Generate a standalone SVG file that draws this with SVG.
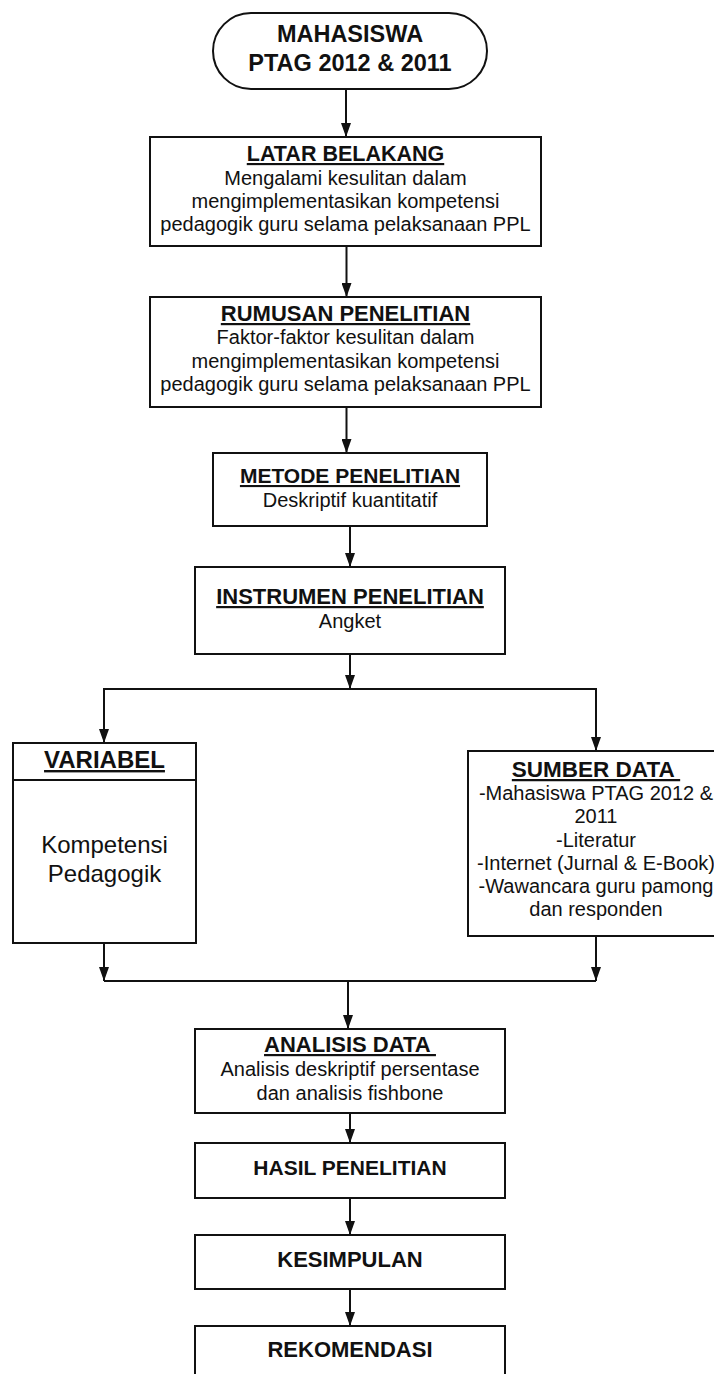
<svg xmlns="http://www.w3.org/2000/svg" width="714" height="1374" viewBox="0 0 714 1374">
<defs>
<marker id="ah" viewBox="0 0 14 10" markerUnits="userSpaceOnUse" markerWidth="14" markerHeight="10" refX="14" refY="5" orient="auto">
<path d="M0,0 L14,5 L0,10 z" fill="#111"/>
</marker>
<style>
.box{fill:#fff;stroke:#111;stroke-width:2}
.t{font-family:"Liberation Sans",Arial,sans-serif;font-weight:bold;font-size:22px;fill:#111;text-anchor:middle}
.u{text-decoration:underline}
.b{font-family:"Liberation Sans",Arial,sans-serif;font-size:20px;fill:#111;text-anchor:middle}
.c{fill:none;stroke:#111;stroke-width:2}
.a{fill:none;stroke:#111;stroke-width:2;marker-end:url(#ah)}
</style>
</defs>
<rect width="714" height="1374" fill="#fff"/>
<g id="connectors">
<line class="a" x1="346" y1="89" x2="346" y2="137"/>
<line class="a" x1="346.5" y1="246" x2="346.5" y2="297"/>
<line class="a" x1="346.5" y1="407" x2="346.5" y2="453"/>
<line class="a" x1="350" y1="526" x2="350" y2="567"/>
<line class="a" x1="350" y1="654" x2="350" y2="689"/>
<line class="c" x1="104" y1="689" x2="596" y2="689"/>
<line class="a" x1="104" y1="688" x2="104" y2="743"/>
<line class="a" x1="596" y1="688" x2="596" y2="751"/>
<line class="a" x1="104" y1="943" x2="104" y2="981"/>
<line class="a" x1="596" y1="936" x2="596" y2="981"/>
<line class="c" x1="104" y1="981" x2="596" y2="981"/>
<line class="a" x1="348" y1="981" x2="348" y2="1029"/>
<line class="a" x1="350" y1="1113" x2="350" y2="1143"/>
<line class="a" x1="350" y1="1198" x2="350" y2="1235"/>
<line class="a" x1="350" y1="1289" x2="350" y2="1326"/>
</g>
<g id="mahasiswa">
<rect class="box" x="213" y="13" width="274" height="76" rx="38" ry="38"/>
<text class="t" x="350" y="42" style="font-size:23.5px">MAHASISWA</text>
<text class="t" x="350" y="71" style="font-size:23.5px">PTAG 2012 &amp; 2011</text>
</g>
<g id="latar">
<rect class="box" x="150" y="137" width="391" height="109"/>
<text class="t u" x="345.5" y="161" style="font-size:21.5px">LATAR BELAKANG</text>
<text class="b" x="345.5" y="185">Mengalami kesulitan dalam</text>
<text class="b" x="345.5" y="208">mengimplementasikan kompetensi</text>
<text class="b" x="345.5" y="231">pedagogik guru selama pelaksanaan PPL</text>
</g>
<g id="rumusan">
<rect class="box" x="150" y="297" width="391" height="110"/>
<text class="t u" x="345.5" y="321">RUMUSAN PENELITIAN</text>
<text class="b" x="345.5" y="344">Faktor-faktor kesulitan dalam</text>
<text class="b" x="345.5" y="368">mengimplementasikan kompetensi</text>
<text class="b" x="345.5" y="391">pedagogik guru selama pelaksanaan PPL</text>
</g>
<g id="metode">
<rect class="box" x="213" y="453" width="274" height="73"/>
<text class="t u" x="350" y="483" style="font-size:21px">METODE PENELITIAN</text>
<text class="b" x="350" y="507">Deskriptif kuantitatif</text>
</g>
<g id="instrumen">
<rect class="box" x="195" y="567" width="310" height="87"/>
<text class="t u" x="350" y="604">INSTRUMEN PENELITIAN</text>
<text class="b" x="350" y="628">Angket</text>
</g>
<g id="variabel">
<rect class="box" x="13" y="743" width="183" height="200"/>
<line class="c" x1="13" y1="780" x2="196" y2="780"/>
<text class="t u" x="104.5" y="768" style="font-size:24px">VARIABEL</text>
<text class="b" x="104.5" y="853" style="font-size:24px">Kompetensi</text>
<text class="b" x="104.5" y="882" style="font-size:24px">Pedagogik</text>
</g>
<g id="sumber">
<rect class="box" x="468" y="751" width="257" height="185"/>
<text class="t u" x="596" y="777" xml:space="preserve" style="font-size:22.5px">SUMBER DATA </text>
<text class="b" x="596" y="800">-Mahasiswa PTAG 2012 &amp;</text>
<text class="b" x="596" y="823">2011</text>
<text class="b" x="596" y="847">-Literatur</text>
<text class="b" x="596" y="870">-Internet (Jurnal &amp; E-Book)</text>
<text class="b" x="596" y="893">-Wawancara guru pamong</text>
<text class="b" x="596" y="916">dan responden</text>
</g>
<g id="analisis">
<rect class="box" x="195" y="1029" width="310" height="84"/>
<text class="t u" x="350" y="1052" xml:space="preserve">ANALISIS DATA </text>
<text class="b" x="350" y="1076">Analisis deskriptif persentase</text>
<text class="b" x="350" y="1100">dan analisis fishbone</text>
</g>
<g id="hasil">
<rect class="box" x="195" y="1143" width="310" height="55"/>
<text class="t" x="350" y="1175" style="font-size:21px">HASIL PENELITIAN</text>
</g>
<g id="kesimpulan">
<rect class="box" x="195" y="1235" width="310" height="54"/>
<text class="t" x="350" y="1267">KESIMPULAN</text>
</g>
<g id="rekomendasi">
<rect class="box" x="195" y="1326" width="310" height="64"/>
<text class="t" x="350" y="1357">REKOMENDASI</text>
</g>
</svg>
